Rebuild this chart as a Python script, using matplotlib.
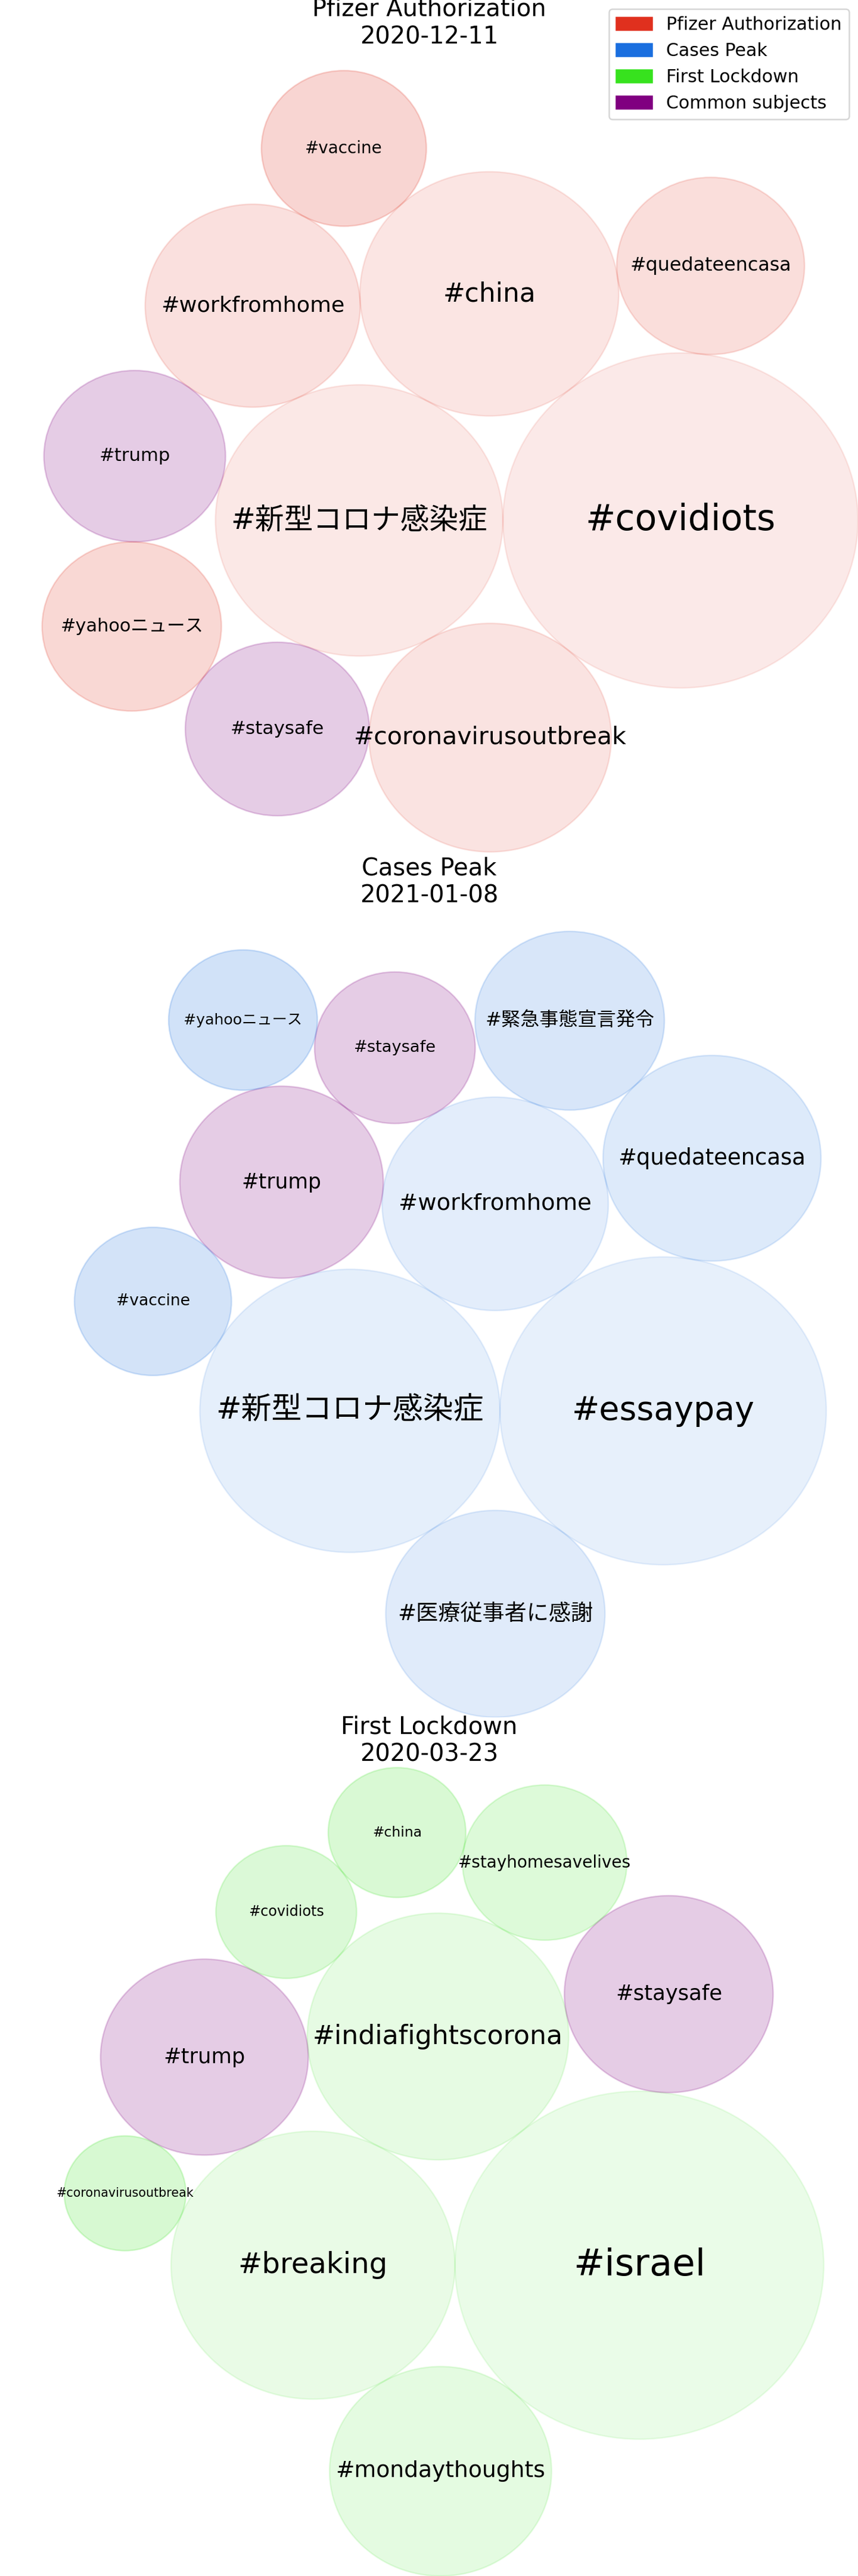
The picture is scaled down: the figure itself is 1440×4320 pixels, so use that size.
import itertools

import numpy as np
import matplotlib
matplotlib.use("Agg")
import matplotlib.pyplot as plt
import matplotlib.patches as mpatches

plt.rcParams["font.family"] = ["DejaVu Sans", "Noto Sans CJK JP"]

# Top hashtags around each event (tweet counts, biggest first)
pfizer_tags = ["#covidiots", "#新型コロナ感染症", "#china", "#coronavirusoutbreak",
               "#workfromhome", "#quedateencasa", "#staysafe", "#trump",
               "#yahooニュース", "#vaccine"]
pfizer_counts = [894, 586, 475, 416, 328, 250, 240, 234, 228, 193]

peak_tags = ["#essaypay", "#新型コロナ感染症", "#workfromhome", "#医療従事者に感謝",
             "#quedateencasa", "#trump", "#緊急事態宣言発令", "#staysafe",
             "#vaccine", "#yahooニュース"]
peak_counts = [751, 635, 361, 339, 335, 292, 253, 182, 174, 156]

lockdown_tags = ["#israel", "#breaking", "#indiafightscorona", "#mondaythoughts",
                 "#staysafe", "#trump", "#stayhomesavelives", "#covidiots",
                 "#china", "#coronavirusoutbreak"]
lockdown_counts = [955, 566, 480, 346, 306, 303, 190, 139, 133, 104]

common_tags = ["#trump", "#staysafe"]

event_names = ["Pfizer Authorization", "Cases Peak", "First Lockdown"]
event_dates = ["2020-12-11", "2021-01-08", "2020-03-23"]
event_colors = ["#e0301e", "#1a6fdf", "#37e21e"]
common_color = "purple"


def circle_intersections(p1, d1, p2, d2):
    """Points at distance d1 from p1 and d2 from p2."""
    v = p2 - p1
    dist = np.hypot(*v)
    if dist == 0 or dist > d1 + d2 or dist < abs(d1 - d2):
        return []
    a = (d1 ** 2 - d2 ** 2 + dist ** 2) / (2 * dist)
    h = np.sqrt(max(d1 ** 2 - a ** 2, 0.0))
    u = v / dist
    n = np.array([-u[1], u[0]])
    base = p1 + a * u
    return [base + h * n, base - h * n]


def pack_circles(counts):
    """Greedy packing: biggest first, each new circle touches two placed
    ones and sits as close as possible to their radius-weighted barycenter."""
    radii = np.sqrt(np.asarray(counts, dtype=float))
    order = np.argsort(-radii, kind="stable")
    pos = np.zeros((len(radii), 2))
    placed = []
    for k, i in enumerate(order):
        r = radii[i]
        if k == 0:
            pos[i] = (r, 0)
        elif k == 1:
            pos[i] = (-r, 0)
        else:
            bary = np.average(pos[placed], axis=0, weights=radii[placed])
            best, best_key = None, None
            for a, b in itertools.combinations(placed, 2):
                for cand in circle_intersections(pos[a], radii[a] + r,
                                                 pos[b], radii[b] + r):
                    d = np.hypot(*(pos[placed] - cand).T)
                    if np.any(d < radii[placed] + r - 1e-6):
                        continue
                    key = (round(float(np.hypot(*(cand - bary))), 6), -cand[1])
                    if best_key is None or key < best_key:
                        best, best_key = cand, key
            pos[i] = best
        placed.append(i)
    return pos, radii


def enclosing_circle(pos, radii):
    """Smallest circle holding all circles (pattern search)."""
    def reach(c):
        return np.max(np.hypot(*(pos - c).T) + radii)

    lo = (pos - radii[:, None]).min(axis=0)
    hi = (pos + radii[:, None]).max(axis=0)
    c = (lo + hi) / 2
    best = reach(c)
    step = (hi - lo).max() / 4
    angles = np.linspace(0, 2 * np.pi, 72, endpoint=False)
    dirs = np.c_[np.cos(angles), np.sin(angles)]
    while step > 1e-9 * (hi - lo).max():
        cands = c + step * dirs
        vals = np.array([reach(q) for q in cands])
        k = np.argmin(vals)
        if vals[k] < best:
            c, best = cands[k], vals[k]
        else:
            step /= 2
    return c, best


fig, axes = plt.subplots(3, 1, figsize=(8, 24), dpi=180)
fig.subplots_adjust(left=0, right=1, bottom=0, top=0.981, hspace=0.0608)

panels = [(pfizer_tags, pfizer_counts), (peak_tags, peak_counts),
          (lockdown_tags, lockdown_counts)]

for ax, (tags, counts), name, date, color in zip(axes, panels, event_names,
                                                  event_dates, event_colors):
    pos, radii = pack_circles(counts)
    center, big_r = enclosing_circle(pos, radii)
    pos = (pos - center) / big_r
    radii = radii / big_r

    lim = np.max(np.abs(pos) + radii[:, None])
    ax.set_xlim(-lim, lim)
    ax.set_ylim(-lim, lim)
    ax.axis("off")

    # font size follows the drawn radius
    width_pt = ax.get_position().width * fig.get_figwidth() * 72
    pt_per_unit = width_pt / (2 * lim)

    n = len(tags)
    rank = np.argsort(np.argsort(-radii, kind="stable"), kind="stable")
    for i in range(n):
        if tags[i] in common_tags:
            c, a = common_color, 0.2
        else:
            c, a = color, 0.1 + 0.1 * rank[i] / (n - 1)
        ax.add_patch(mpatches.Circle(pos[i], radii[i], color=c, alpha=a))
        ax.text(pos[i, 0], pos[i, 1], tags[i], ha="center", va="center",
                fontsize=0.202 * radii[i] * pt_per_unit)

    ax.set_title(f"{name}\n{date}", fontsize=16, pad=2)

handles = [mpatches.Patch(color=c, label=n) for n, c in zip(event_names, event_colors)]
handles.append(mpatches.Patch(color=common_color, label="Common subjects"))
fig.legend(handles=handles, loc="upper right", fontsize=12)

plt.savefig("out.png")
plt.close()
